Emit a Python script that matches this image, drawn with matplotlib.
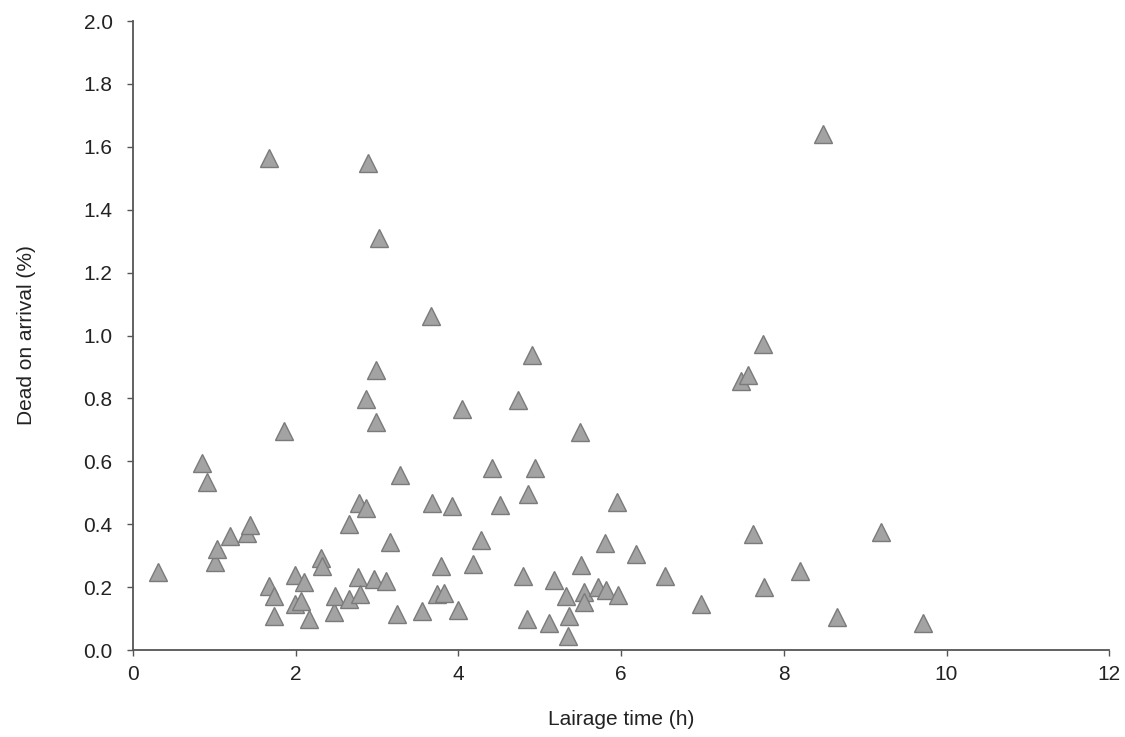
import matplotlib
matplotlib.use("Agg")
import matplotlib.pyplot as plt

lairage_time = [0.31, 0.85, 0.91, 1.01, 1.04, 1.19, 1.40, 1.44, 1.68, 1.68, 1.73, 1.73, 1.86,
                1.99, 1.99, 2.07, 2.11, 2.16, 2.31, 2.33, 2.47, 2.49, 2.66, 2.66, 2.77, 2.79,
                2.78, 2.87, 2.87, 2.89, 2.96, 2.99, 2.99, 3.03, 3.11, 3.16, 3.25, 3.28, 3.56,
                3.67, 3.68, 3.74, 3.82, 3.79, 3.92, 4.00, 4.05, 4.18, 4.28, 4.42, 4.51, 4.74,
                4.80, 4.85, 4.86, 4.91, 4.94, 5.11, 5.18, 5.33, 5.35, 5.36, 5.50, 5.51, 5.54,
                5.55, 5.72, 5.81, 5.80, 5.95, 5.96, 6.18, 6.54, 6.98, 7.48, 7.56, 7.62, 7.75,
                7.76, 8.20, 8.48, 8.65, 9.19, 9.71]
dead_on_arrival = [0.247, 0.596, 0.534, 0.280, 0.320, 0.363, 0.371, 0.397, 1.564, 0.204, 0.172, 0.107, 0.696,
                   0.238, 0.146, 0.157, 0.215, 0.098, 0.294, 0.268, 0.120, 0.172, 0.400, 0.162, 0.231, 0.178,
                   0.467, 0.453, 0.799, 1.550, 0.225, 0.891, 0.725, 1.310, 0.220, 0.342, 0.114, 0.556, 0.123,
                   1.063, 0.467, 0.178, 0.181, 0.268, 0.458, 0.128, 0.765, 0.273, 0.350, 0.580, 0.460, 0.796,
                   0.236, 0.098, 0.495, 0.937, 0.578, 0.085, 0.222, 0.172, 0.045, 0.109, 0.693, 0.271, 0.183,
                   0.154, 0.199, 0.190, 0.340, 0.472, 0.176, 0.305, 0.234, 0.146, 0.855, 0.873, 0.368, 0.974,
                   0.199, 0.252, 1.640, 0.104, 0.376, 0.087]

x_ticks = [0, 2, 4, 6, 8, 10, 12]
y_ticks = [0.0, 0.2, 0.4, 0.6, 0.8, 1.0, 1.2, 1.4, 1.6, 1.8, 2.0]

plt.rcParams['font.family'] = ['Liberation Sans', 'DejaVu Sans']

fig = plt.figure(figsize=(11.25, 7.37), dpi=100)
ax = fig.add_axes([0.118, 0.118, 0.868, 0.8535])

ax.plot(lairage_time, dead_on_arrival, linestyle='none', marker='^', markersize=12.5,
        markerfacecolor='#a3a3a3', markeredgecolor='#7a7a7a', markeredgewidth=1.0, clip_on=False)

ax.set_xlim(0, 12)
ax.set_ylim(0, 2.0)
ax.set_xticks(x_ticks)
ax.set_xticklabels([str(v) for v in x_ticks])
ax.set_yticks(y_ticks)
ax.set_yticklabels([f"{v:.1f}" for v in y_ticks])

for side in ['top', 'right']:
    ax.spines[side].set_visible(False)
for side in ['left', 'bottom']:
    ax.spines[side].set_color('#555555')
    ax.spines[side].set_linewidth(1.3)

ax.tick_params(axis='both', direction='out', length=4.5, width=1.0, color='#555555',
               labelsize=15, labelcolor='#222222')
ax.tick_params(axis='y', pad=10)
ax.tick_params(axis='x', pad=6)

ax.set_xlabel('Lairage time (h)', fontsize=15, color='#222222')
ax.set_ylabel('Dead on arrival (%)', fontsize=15, color='#222222')
ax.xaxis.set_label_coords(0.5, -0.111)
ax.yaxis.set_label_coords(-0.109, 0.5)
ax.xaxis.label.set_va('center')
ax.yaxis.label.set_va('center')

fig.savefig('out.png', dpi=100, facecolor='white')
